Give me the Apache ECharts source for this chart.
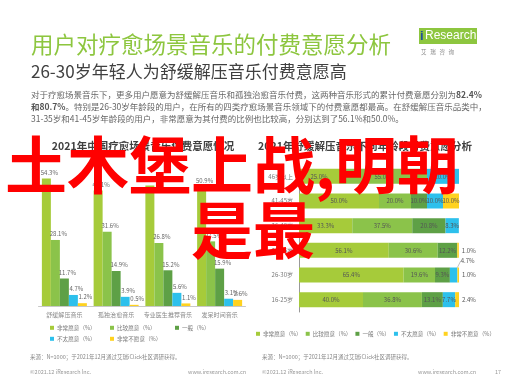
<!DOCTYPE html>
<html>
<head>
<meta charset="utf-8">
<script src="https://cdn.jsdelivr.net/npm/echarts@6/dist/echarts.min.js"></script>
<style>html,body{margin:0;padding:0;background:#fff}#main{width:507px;height:380px}</style>
</head>
<body>
<div id="main"></div>
<script>
var FONT = '"Noto Sans CJK SC", "Noto Sans", sans-serif';

// 左图：四类疗愈场景音乐
var sceneCats = ['舒缓解压音乐', '孤独治愈音乐', '专业医生推荐音乐', '发呆时间音乐'];
var levelNames = ['非常愿意（%）', '比较愿意（%）', '一般（%）', '不太愿意（%）', '非常不愿意（%）'];
var levelColors = ['#A6CB3A', '#8BC34A', '#5EA046', '#2DC0EC', '#FFD21F'];
var veryWilling = [54.3, 49.1, 51.3, 50.9];
var ratherWilling = [28.1, 31.6, 26.8, 27.5];
var neutral = [11.7, 14.9, 15.2, 15.9];
var ratherNot = [4.7, 3.9, 5.6, 3.1];
var veryNot = [1.2, 0.5, 1.1, 2.6];

// 右图：舒缓解压音乐，不同年龄段
var ageCats = ['46岁以上', '41-45岁', '36-40岁', '31-35岁', '26-30岁', '16-25岁'];
var ageVeryWilling = [25.0, 50.0, 33.3, 56.1, 65.4, 40.0];
var ageRatherWilling = [55.0, 20.0, 37.5, 30.6, 19.6, 36.8];
var ageNeutral = [0, 10.0, 20.8, 12.2, 9.3, 13.1];
var ageRatherNot = [20.0, 10.0, 8.3, 0, 4.7, 7.7];
var ageVeryNot = [0, 10.0, 0, 1.0, 1.0, 2.4];

var leftData = [veryWilling, ratherWilling, neutral, ratherNot, veryNot];
var rightData = [ageVeryWilling, ageRatherWilling, ageNeutral, ageRatherNot, ageVeryNot];

function txt(x, y, text, size, color, extra) {
    var st = {
        text: text, fill: color, fontSize: size, fontFamily: FONT,
        textAlign: 'left', textVerticalAlign: 'middle'
    };
    for (var k in (extra || {})) st[k] = extra[k];
    return { type: 'text', x: x, y: y, z: 50, style: st };
}

var pct = function (p) { return p.value > 0 ? p.value.toFixed(1) + '%' : ''; };

var series = [];
leftData.forEach(function (arr, i) {
    series.push({
        name: levelNames[i], type: 'bar', xAxisIndex: 0, yAxisIndex: 0,
        data: arr, barWidth: 9, barGap: '0%',
        itemStyle: { color: levelColors[i] },
        label: { show: true, position: 'top', distance: 3, offset: [3, 0], formatter: pct,
                 fontSize: 6, color: '#666', fontFamily: FONT }
    });
});
rightData.forEach(function (arr, i) {
    var s = {
        name: levelNames[i], type: 'bar', xAxisIndex: 1, yAxisIndex: 1, stack: 'age',
        barWidth: 15, itemStyle: { color: levelColors[i] },
        label: { show: true, position: 'inside', formatter: pct, fontSize: 6, color: '#555', fontFamily: FONT },
        data: arr.slice()
    };
    if (i === 4) {
        // 非常不愿意：小数值标在条形右侧
        s.data = arr.map(function (v) {
            return v < 5 ? { value: v, label: { position: 'right', distance: 3 } } : v;
        });
    }
    if (i === 3) {
        s.labelLayout = function (p) {
            return p.dataIndex === 4 ? { dx: 14, dy: -14 } : {};
        };
        s.labelLine = { show: true, lineStyle: { color: '#999', width: 0.6 } };
    }
    series.push(s);
});

function lg(names, left, top, gap) {
    return {
        data: names, left: left, top: top, itemGap: gap || 6, orient: 'horizontal',
        padding: 0, itemWidth: 4, itemHeight: 4, icon: 'rect', width: 300,
        textStyle: { fontSize: 5.6, color: '#777', fontFamily: FONT, padding: [0, 0, 0, -2] }
    };
}

var myChart = echarts.init(document.getElementById('main'));
myChart.setOption({
    backgroundColor: '#fff',
    animation: false,
    textStyle: { fontFamily: FONT },
    grid: [
        { left: 38.5, top: 165, width: 207, height: 141 },
        { left: 299, top: 164, width: 160, height: 148 }
    ],
    xAxis: [
        { gridIndex: 0, type: 'category', data: sceneCats,
          axisLine: { lineStyle: { color: '#c8c8c8' } }, axisTick: { show: false },
          axisLabel: { fontSize: 6, color: '#888', margin: 6, interval: 0 } },
        { gridIndex: 1, type: 'value', min: 0, max: 100, show: false }
    ],
    yAxis: [
        { gridIndex: 0, type: 'value', min: 0, max: 60, show: false },
        { gridIndex: 1, type: 'category', data: ageCats, inverse: true,
          axisLine: { lineStyle: { color: '#999' } }, axisTick: { show: false },
          axisLabel: { fontSize: 6, color: '#777', margin: 6 } }
    ],
    legend: [
        lg([levelNames[0]], 50, 325), lg([levelNames[1]], 110, 325), lg([levelNames[2]], 175, 325),
        lg([levelNames[3]], 50, 336), lg([levelNames[4]], 110, 336),
        lg(levelNames, 256, 331, 4)
    ],
    series: series,
    graphic: [
        txt(31, 44, '用户对疗愈场景音乐的付费意愿分析', 22.5, '#8DC63F'),
        txt(31, 72, '26-30岁年轻人为舒缓解压音乐付费意愿高', 17, '#404040'),
        { type: 'rect', z: 50, shape: { x: 419, y: 28, width: 58, height: 16 }, style: { fill: '#8DC63F' } },
        txt(420, 36, 'i', 13, '#1F4E9A', { fontWeight: 'bold', fontFamily: 'Arial, sans-serif' }),
        txt(425, 36, 'Research', 12, '#fff', { fontFamily: 'Arial, sans-serif' }),
        txt(421, 52, '艾   瑞   咨   询', 5.5, '#888'),
        txt(31, 95, '对于疗愈场景音乐下，更多用户愿意为舒缓解压音乐和孤独治愈音乐付费，这两种音乐形式的累计付费意愿分别为{b|82.4%}', 8.5, '#666',
            { rich: { b: { fontWeight: 'bold', fontSize: 8.5, fill: '#555', fontFamily: FONT } } }),
        txt(31, 107, '{b|和80.7%}。特别是26-30岁年龄段的用户，在所有的四类疗愈场景音乐领域下的付费意愿都最高。在舒缓解压音乐品类中，', 8.5, '#666',
            { rich: { b: { fontWeight: 'bold', fontSize: 8.5, fill: '#555', fontFamily: FONT } } }),
        txt(31, 119, '31-35岁和41-45岁年龄段的用户，非常愿意为其付费的比例也比较高，分别达到了56.1%和50.0%。', 8.5, '#666'),
        txt(143, 146, '2021年中国疗愈场景音乐付费意愿情况', 10.5, '#404040', { fontWeight: 'bold', textAlign: 'center' }),
        txt(365, 146, '2021年舒缓解压音乐不同年龄段付费意愿分析', 10.5, '#404040', { fontWeight: 'bold', textAlign: 'center' }),
        txt(30, 357, '来源：N=1000；于2021年12月通过艾瑞iClick社区调研获得。', 5.5, '#888'),
        txt(262, 357, '来源：N=1000；于2021年12月通过艾瑞iClick社区调研获得。', 5.5, '#888'),
        txt(30, 372, '©2021.12 iResearch Inc.', 5.5, '#999'),
        txt(188, 372, 'www.iresearch.com.cn', 5.5, '#999'),
        txt(262, 372, '©2021.12 iResearch Inc.', 5.5, '#999'),
        txt(418, 372, 'www.iresearch.com.cn', 5.5, '#999'),
        txt(495, 372, '17', 5.5, '#999'),
        txt(5, 165, '土木堡上战,', 62, '#FF0000', { fontWeight: 'bold' }),
        txt(459, 165, '明朝', 62, '#FF0000', { fontWeight: 'bold', textAlign: 'right' }),
        txt(191, 230, '是最', 62, '#FF0000', { fontWeight: 'bold' })
    ]
});
</script>
</body>
</html>
